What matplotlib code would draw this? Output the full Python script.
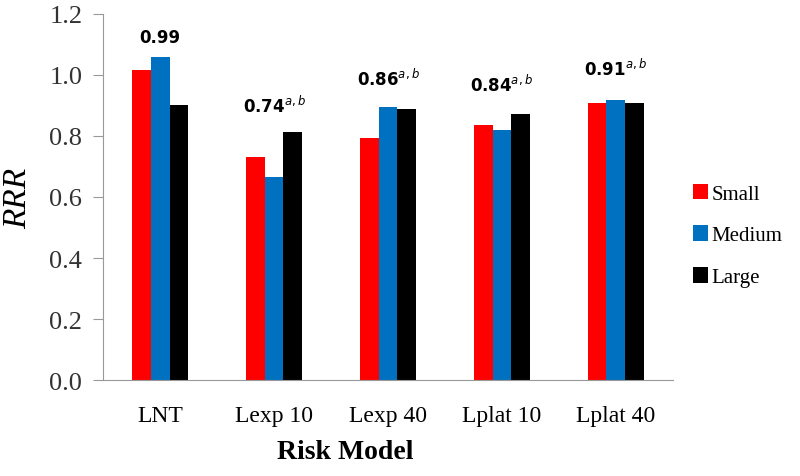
import matplotlib
matplotlib.use('Agg')
import matplotlib.pyplot as plt
import numpy as np

# data
models = ['LNT', 'Lexp 10', 'Lexp 40', 'Lplat 10', 'Lplat 40']
small = [1.016, 0.732, 0.792, 0.836, 0.908]
medium = [1.058, 0.667, 0.894, 0.820, 0.916]
large = [0.902, 0.812, 0.887, 0.872, 0.907]
labels = ['0.99', '0.74', '0.86', '0.84', '0.91']
sups = ['', 'a,b', 'a,b', 'a,b', 'a,b']
label_y = [1.125, 0.90, 0.99, 0.97, 1.023]  # where the group labels sit

plt.rcParams['mathtext.fontset'] = 'dejavusans'

fig = plt.figure(figsize=(8, 4.77), dpi=100)
ax = fig.add_axes([0.129, 0.201, 0.712, 0.768])

x = np.arange(len(models))
w = 0.164
ax.bar(x - w, small, w, color='#FF0000', label='Small')
ax.bar(x, medium, w, color='#0070C0', label='Medium')
ax.bar(x + w, large, w, color='#000000', label='Large')

# annotations above each group
for i in range(len(models)):
    s = labels[i]
    if sups[i]:
        s = s + r'$^{\mathit{' + sups[i] + '}}$'
    ax.text(x[i], label_y[i], s, ha='center', va='center', fontsize=12,
            fontweight='bold', family='DejaVu Sans')

ax.set_xlim(-0.5, 4.5)
ax.set_ylim(0, 1.2)
ax.set_yticks(np.arange(0, 1.21, 0.2))
ax.set_yticklabels(['%.1f' % v for v in np.arange(0, 1.21, 0.2)],
                   family='Liberation Serif', fontsize=19, color='#333333')
ax.set_xticks(x)
ax.set_xticklabels(models, family='Liberation Serif', fontsize=17)

for s in ['top', 'right']:
    ax.spines[s].set_visible(False)
for s in ['left', 'bottom']:
    ax.spines[s].set_color('#999999')
ax.tick_params(axis='y', direction='out', length=7, color='#999999', pad=8)
ax.tick_params(axis='x', length=0, pad=18)

ax.set_ylabel('RRR', family='Liberation Serif', style='italic', fontsize=24)
ax.yaxis.set_label_coords(-0.123, 0.5)
ax.set_xlabel('Risk Model', family='Liberation Serif', fontweight='bold', fontsize=20)
ax.xaxis.set_label_coords(0.425, -0.161)

leg = ax.legend(loc='center left', bbox_to_anchor=(1.035, 0.395), frameon=False,
                prop={'family': 'Liberation Serif', 'size': 15}, borderpad=0,
                borderaxespad=0, handlelength=0.75, handleheight=0.75,
                handletextpad=0.15, labelspacing=1.05)

fig.savefig('out.png', dpi=100)
